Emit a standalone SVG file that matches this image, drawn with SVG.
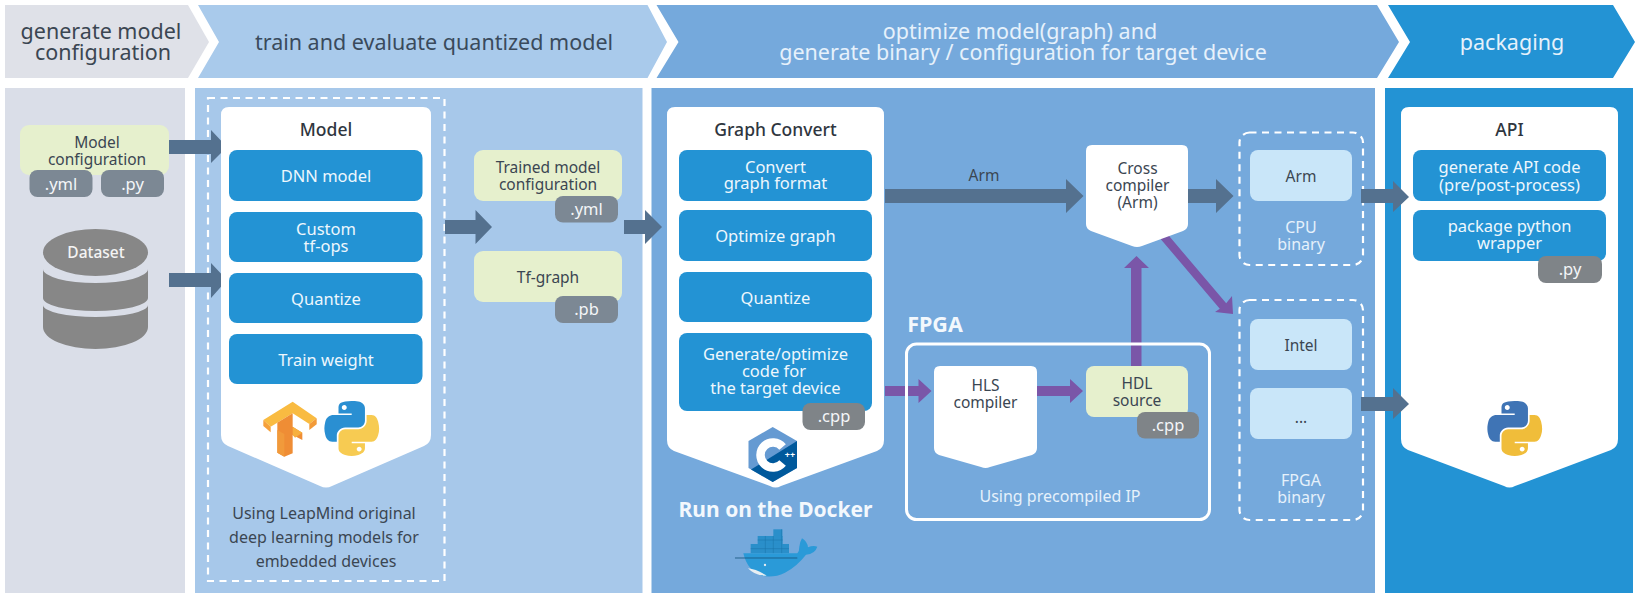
<svg xmlns="http://www.w3.org/2000/svg" xmlns:xlink="http://www.w3.org/1999/xlink" width="1637" height="598" viewBox="0 0 1637 598">
<style>
text{font-family:"Noto Sans","Open Sans","Liberation Sans",sans-serif;text-anchor:middle;font-size:15.5px;fill:#3b4652}
.hd{font-size:21.5px}
.w{fill:#fff}
.soft{fill:#e6f1fb}
.n16{font-size:16px}
.ttl{font-size:17.5px;font-weight:500;fill:#2f3640}
.big{font-size:21px;font-weight:700;fill:#f3f8fd}
.blue{fill:#2393d4}
.green{fill:#e6f0cd}
.pill{fill:#7c8894}
.pill2{fill:#7f8488}
.pilt{fill:#f4f6f8;font-size:16.5px}
.bt{fill:#eef7fd;font-size:16.5px}
.card{fill:#fff}
.pale{fill:#c9e6f9}
.dash{fill:none;stroke:#fff;stroke-width:2.2;stroke-dasharray:7 5.5}
.slate{fill:#54718f}
.violet{fill:#7a56a8}
</style>
<defs>
<path id="pyUpper" d="M54.9,0.9C50.4,0.9 46,1.3 42.2,2C31,4 29,8.1 29,15.7V25.8H55.4V29.1H29H19C11.4,29.1 4.7,33.7 2.6,42.5C0.2,52.5 0.1,58.8 2.6,69.2C4.5,77 8.9,82.5 16.6,82.5H25.6V70.5C25.6,61.8 33.1,54.1 42.2,54.1H68.6C76,54.1 81.9,48 81.9,40.6V15.7C81.9,8.6 75.9,3.2 68.6,2C64,1.2 59.3,0.9 54.9,0.9ZM40.6,9C43.3,9 45.5,11.3 45.5,14C45.5,16.7 43.3,18.9 40.6,18.9C37.8,18.9 35.6,16.7 35.6,14C35.6,11.3 37.8,9 40.6,9Z"/>
<path id="pyLower" d="M85.2,29.1V40.7C85.2,49.8 77.5,57.4 68.6,57.4H42.2C35,57.4 29,63.6 29,70.8V95.6C29,102.7 35.2,106.8 42.2,108.9C50.5,111.3 58.5,111.8 68.6,108.9C75.2,107 81.9,103.1 81.9,95.6V85.7H55.4V82.4H81.9H95.1C102.8,82.4 105.6,77.1 108.3,69.2C111,61 110.9,53.2 108.3,42.7C106.4,35.2 102.8,29.1 95.1,29.1ZM70.3,92.3C73.1,92.3 75.3,94.5 75.3,97.2C75.3,100 73.1,102.2 70.3,102.2C67.6,102.2 65.4,100 65.4,97.2C65.4,94.5 67.6,92.3 70.3,92.3Z"/>
</defs>

<!-- stage banners -->
<g id="stage-config">
<path d="M5,5H188L209,42L188,78H5Z" fill="#dfe1e8"/>
<text class="hd" y="39"><tspan x="101">generate model</tspan><tspan x="103" dy="21">configuration</tspan></text>
</g>
<g id="stage-train">
<path d="M198,5H647.5L667,42L647.5,78H198L219,42Z" fill="#a9caeb"/>
<text class="hd" x="434" y="50" style="fill:#3a4a5c">train and evaluate quantized model</text>
</g>
<g id="stage-optimize">
<path d="M656.5,5H1377L1399,42L1377,78H656.5L678.5,42Z" fill="#75a9dc"/>
<text class="hd soft" y="39"><tspan x="1020">optimize model(graph) and</tspan><tspan x="1023" dy="21">generate binary / configuration for target device</tspan></text>
</g>
<g id="stage-packaging">
<path d="M1388,5H1613L1635,42L1613,78H1388L1410,42Z" fill="#2393d4"/>
<text class="hd soft" x="1512" y="50">packaging</text>
</g>

<!-- column backgrounds -->
<g id="columns">
<rect x="5" y="88" width="180" height="505" fill="#dadee8"/>
<rect x="195" y="88" width="447.5" height="505" fill="#a7c8ea"/>
<rect x="651.5" y="88" width="723.5" height="505" fill="#75a9dc"/>
<rect x="1385" y="88" width="248" height="505" fill="#2393d4"/>
</g>

<g id="model-frame">
<rect class="dash" x="208" y="98" width="236.5" height="483"/>
<text class="n16" y="519"><tspan x="324">Using LeapMind original</tspan><tspan x="324" dy="24">deep learning models for</tspan><tspan x="326" dy="24">embedded devices</tspan></text>
</g>

<!-- connectors sit under the cards they run into -->
<g id="connectors">
<path class="slate" d="M169,140H211V130L227,147L211,163V154H169Z"/>
<path class="slate" d="M169,273H211V263L227,280L211,298V287H169Z"/>
<path class="slate" d="M445,220H475.5V210L492,227L475.5,244V234H445Z"/>
<path class="slate" d="M624,220H645V210L662,227L645,244V234H624Z"/>
<path class="slate" d="M885,189H1066V179L1083.5,196L1066,213V203H885Z"/>
<path class="slate" d="M1188,189H1216V179L1233.5,196L1216,213V203H1188Z"/>
<path class="violet" d="M885,386H918.5V379L931.5,391L918.5,403V396H885Z"/>
<path class="violet" d="M1037,386H1070V379L1083,391L1070,403V396H1037Z"/>
<path class="violet" d="M1131,368V268H1124L1136.5,256L1149,268H1141.5V368Z"/>
<path class="violet" d="M1153.2,217.300L1226.200,303.300L1232,296L1233,314L1215,312L1219.800,308.700L1146.800,222.700Z"/>
</g>

<g id="model-config">
<rect class="green" x="20" y="125" width="149" height="50" rx="9"/>
<text y="148"><tspan x="97">Model</tspan><tspan x="97" dy="16.500">configuration</tspan></text>
<rect class="pill" x="29.500" y="170" width="63" height="27" rx="8"/>
<text class="pilt" x="61" y="189.500">.yml</text>
<rect class="pill" x="101" y="170" width="63" height="27" rx="8"/>
<text class="pilt" x="132.500" y="189.500">.py</text>
</g>

<g id="dataset">
<path d="M43,269A52.500,14 0 0 0 148,269V298A52.500,13 0 0 1 43,298Z" fill="#878787"/>
<path d="M43,305A52.500,12 0 0 0 148,305V327A52.500,22 0 0 1 43,327Z" fill="#878787"/>
<ellipse cx="95.500" cy="252.500" rx="52.500" ry="23.500" fill="#878787"/>
<text x="96" y="258" style="fill:#f4f4f4;font-size:15.5px;font-weight:500">Dataset</text>
</g>

<g id="model">
<path class="card" d="M229,107H423Q431,107 431,115V435Q431,443 424,446L332,486Q326,489 320,486L228,446Q221,443 221,435V115Q221,107 229,107Z"/>
<text class="ttl" x="326" y="135.500">Model</text>
<rect class="blue" x="229" y="150" width="193.500" height="51" rx="8"/>
<text class="bt" x="326" y="181.500">DNN model</text>
<rect class="blue" x="229" y="212" width="193.500" height="50" rx="8"/>
<text class="bt" y="234.500"><tspan x="326">Custom</tspan><tspan x="326" dy="17">tf-ops</tspan></text>
<rect class="blue" x="229" y="273" width="193.500" height="50" rx="8"/>
<text class="bt" x="326" y="304.500">Quantize</text>
<rect class="blue" x="229" y="334" width="193.500" height="50" rx="8"/>
<text class="bt" x="326" y="366">Train weight</text>
<!-- TensorFlow mark -->
<g transform="translate(240,390) scale(0.3333)">
<path d="M70,90L158,35L230,85L208,102L158,70L92,110Z" fill="#f9bb41"/>
<path d="M70,90L92,110V127L70,108Z" fill="#f6a03a"/>
<path d="M208,102L230,85V103L208,120Z" fill="#f29a38"/>
<path d="M92,110L158,70V110L187,128V150L158,135V190L133,200L112,188V98Z" fill="#ef8d35"/>
<path d="M158,110L187,128L165,143L158,135Z" fill="#f7b03e"/>
<path d="M133,132V200L112,188V120Z" fill="#f19a3b"/>
</g>
<g transform="translate(324,400.500) scale(0.5)">
<use xlink:href="#pyUpper" href="#pyUpper" fill="#2a8fd2"/>
<use xlink:href="#pyLower" href="#pyLower" fill="#f7cb52"/>
</g>
</g>

<g id="trained-config">
<rect class="green" x="474" y="150" width="148" height="51" rx="9"/>
<text y="173"><tspan x="548">Trained model</tspan><tspan x="548" dy="17">configuration</tspan></text>
<rect class="pill" x="555" y="196" width="63" height="26.500" rx="8"/>
<text class="pilt" x="586.500" y="215">.yml</text>
</g>

<g id="tf-graph">
<rect class="green" x="474" y="251" width="148" height="51" rx="9"/>
<text x="548" y="283">Tf-graph</text>
<rect class="pill" x="555" y="296" width="63" height="27" rx="8"/>
<text class="pilt" x="586.500" y="315">.pb</text>
</g>

<g id="graph-convert">
<path class="card" d="M675,107H876Q884,107 884,115V440Q884,448 877,451L781,486Q775.500,489 770,486L674,451Q667,448 667,440V115Q667,107 675,107Z"/>
<text class="ttl" x="775.500" y="135.500">Graph Convert</text>
<rect class="blue" x="679" y="150" width="193" height="51" rx="8"/>
<text class="bt" y="172.500"><tspan x="775.500">Convert</tspan><tspan x="775.500" dy="16.500">graph format</tspan></text>
<rect class="blue" x="679" y="210" width="193" height="51" rx="8"/>
<text class="bt" x="775.500" y="241.500">Optimize graph</text>
<rect class="blue" x="679" y="272" width="193" height="50" rx="8"/>
<text class="bt" x="775.500" y="304">Quantize</text>
<rect class="blue" x="679" y="333" width="193" height="78" rx="8"/>
<text class="bt" y="360"><tspan x="775.500">Generate/optimize</tspan><tspan x="774" dy="17">code for</tspan><tspan x="775.500" dy="17">the target device</tspan></text>
<rect class="pill2" x="802.500" y="403" width="62.500" height="27" rx="8"/>
<text class="pilt" x="834" y="422">.cpp</text>
<!-- C++ mark -->
<path d="M772.700,427L797,441V468L772.700,482L748.500,468V441Z" fill="#659ad2"/>
<path d="M797,441V468L772.700,482L751,469.500Z" fill="#00599c"/>
<path d="M782.600,463A12.500,12.500 0 1 1 782.600,447" fill="none" stroke="#fff" stroke-width="8.500"/>
<text x="790" y="457.500" style="fill:#fff;font-size:9px;font-weight:700">++</text>
</g>

<g id="docker">
<text class="big" x="775.500" y="517">Run on the Docker</text>
<g transform="translate(720,410) scale(0.3333)">
<rect x="160" y="358" width="27" height="22" fill="#2a8fca"/>
<rect x="113" y="378" width="75" height="24" fill="#2a8fca"/>
<rect x="92" y="402" width="115" height="28" fill="#2a8fca"/>
<path d="M113,390H188M92,416H207M136,378V430M160,378V430M185,358V430" stroke="#1b73a8" stroke-width="1.500" fill="none"/>
<path d="M70,430H232Q238,424 238,410Q240,395 246,385Q262,395 264,412Q280,405 292,410Q285,432 258,434Q230,470 195,488Q160,505 125,497Q82,482 70,430Z" fill="#2a9ad8"/>
<path d="M84,475Q110,478 140,497Q105,498 84,475Z" fill="#e8eef2"/>
<circle cx="135" cy="465" r="3.500" fill="#e8eef2"/>
<path d="M45,444H232" stroke="#18547d" stroke-width="2.500" fill="none"/>
</g>
</g>

<g id="arm-label"><text x="984" y="181">Arm</text></g>

<g id="cross-compiler">
<path class="card" d="M1092,145H1182Q1188,145 1188,151V224Q1188,229 1183,231L1142,246Q1137,248 1132,246L1091,231Q1086,229 1086,224V151Q1086,145 1092,145Z"/>
<text y="174"><tspan x="1137.500">Cross</tspan><tspan x="1137.500" dy="17">compiler</tspan><tspan x="1137.500" dy="17">(Arm)</tspan></text>
</g>

<g id="fpga">
<text class="big" x="935" y="332" style="font-size:21.5px">FPGA</text>
<rect x="906.500" y="344" width="303" height="175.500" rx="10" fill="none" stroke="#fff" stroke-width="3"/>
<text class="soft n16" x="1060" y="502">Using precompiled IP</text>
</g>

<g id="hls-compiler">
<path class="card" d="M940,366H1031Q1037,366 1037,372V448Q1037,453 1032,455L990,467Q985.500,469 981,467L939,455Q934,453 934,448V372Q934,366 940,366Z"/>
<text y="391"><tspan x="985.500">HLS</tspan><tspan x="985.500" dy="16.500">compiler</tspan></text>
</g>

<g id="hdl-source">
<rect class="green" x="1086" y="366" width="102" height="51" rx="8"/>
<text y="389"><tspan x="1137">HDL</tspan><tspan x="1137" dy="17">source</tspan></text>
<rect class="pill2" x="1137" y="412" width="62" height="26.500" rx="8"/>
<text class="pilt" x="1168" y="431">.cpp</text>
</g>

<g id="cpu-binary">
<rect class="dash" x="1239.500" y="132.500" width="123.500" height="132.500" rx="10"/>
<rect class="pale" x="1250" y="150" width="102" height="51" rx="8"/>
<text x="1301" y="181.500">Arm</text>
<text class="soft n16" y="233"><tspan x="1301">CPU</tspan><tspan x="1301" dy="17">binary</tspan></text>
</g>

<g id="fpga-binary">
<rect class="dash" x="1239.500" y="300" width="123.500" height="220" rx="10"/>
<rect class="pale" x="1250" y="319" width="102" height="51" rx="8"/>
<text x="1301" y="351">Intel</text>
<rect class="pale" x="1250" y="388" width="102" height="51" rx="8"/>
<text x="1301" y="423">...</text>
<text class="soft n16" y="486"><tspan x="1301">FPGA</tspan><tspan x="1301" dy="16.500">binary</tspan></text>
</g>

<g id="api">
<path class="card" d="M1409,107H1610Q1618,107 1618,115V439Q1618,447 1611,450L1515,486Q1509.500,489 1504,486L1408,450Q1401,447 1401,439V115Q1401,107 1409,107Z"/>
<text class="ttl" x="1509.500" y="135.500">API</text>
<rect class="blue" x="1413" y="150" width="193" height="51" rx="8"/>
<text class="bt" y="172.500"><tspan x="1509.500">generate API code</tspan><tspan x="1509.500" dy="18">(pre/post-process)</tspan></text>
<rect class="blue" x="1413" y="210" width="193" height="51" rx="8"/>
<text class="bt" y="232"><tspan x="1509.500">package python</tspan><tspan x="1509.500" dy="17">wrapper</tspan></text>
<rect class="pill2" x="1538" y="256" width="64" height="27" rx="8"/>
<text class="pilt" x="1570" y="275">.py</text>
<g transform="translate(1487,400.500) scale(0.5)">
<use xlink:href="#pyUpper" href="#pyUpper" fill="#3f74b5"/>
<use xlink:href="#pyLower" href="#pyLower" fill="#f0bd3a"/>
</g>
</g>

<!-- arrows that overlap the packaging card -->
<g id="connectors-front">
<path class="slate" d="M1361,189H1393V181L1409,197L1393,212V203H1361Z"/>
<path class="slate" d="M1361,397H1393V388L1409,404L1393,419V411H1361Z"/>
</g>
</svg>
